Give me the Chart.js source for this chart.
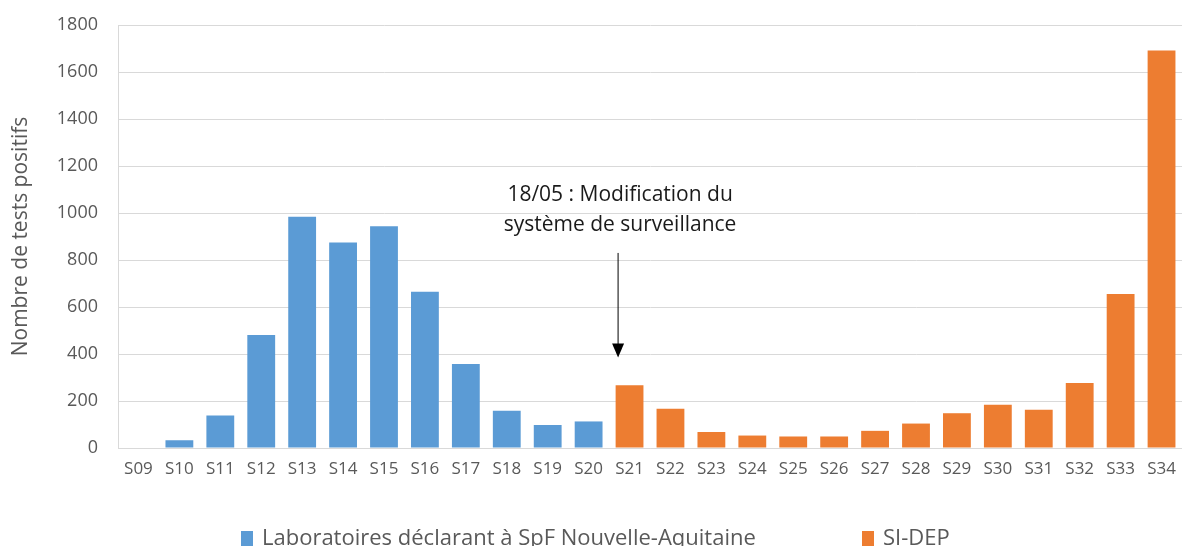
<!DOCTYPE html>
<html lang="fr">
<head>
<meta charset="utf-8">
<script src="https://cdn.jsdelivr.net/npm/chart.js@4.4.0/dist/chart.umd.min.js"></script>
<style>
  html, body { margin: 0; padding: 0; background: #fff; overflow: hidden; }
  #wrap { position: relative; width: 1182px; height: 546px; }
  #legend { position: absolute; left: 0; top: 522px; width: 1182px; height: 30px;
            font-family: "Open Sans", sans-serif; font-size: 22px; color: #595959; }
  .item { position: absolute; top: 0; line-height: 28px; white-space: nowrap; }
  .box { display: inline-block; width: 12px; height: 15px; margin-right: 9px; vertical-align: -1px; }
</style>
</head>
<body>
<div id="wrap">
  <canvas id="chart" width="1182" height="546"></canvas>
  <div id="legend"></div>
</div>
<script>
// Semaines
const weeks = ['S09', 'S10', 'S11', 'S12', 'S13', 'S14', 'S15', 'S16', 'S17', 'S18', 'S19', 'S20', 'S21',
    'S22', 'S23', 'S24', 'S25', 'S26', 'S27', 'S28', 'S29', 'S30', 'S31', 'S32', 'S33', 'S34'];

// Laboratoires déclarant à SpF (S09 - S20)
const labosValues = [0, 33, 138, 481, 984, 874, 944, 665, 357, 158, 98, 113,
    null, null, null, null, null, null, null, null, null, null, null, null, null, null];

// SI-DEP (S21 - S34)
const sidepValues = [null, null, null, null, null, null, null, null, null, null, null, null,
    267, 167, 68, 53, 49, 49, 73, 104, 148, 184, 163, 277, 655, 1692];

const yTicks = [0, 200, 400, 600, 800, 1000, 1200, 1400, 1600, 1800];

const seriesNames = ['Laboratoires déclarant à SpF Nouvelle-Aquitaine', 'SI-DEP'];
const annotationLines = ['18/05 : Modification du', 'système de surveillance'];

const blue = '#5B9BD5';
const orange = '#ED7D31';
const textGray = '#595959';
const gridGray = '#D9D9D9';
const font = '"Open Sans", sans-serif';

// Flèche et texte : changement du système de surveillance
const annotationPlugin = {
    id: 'annotation',
    afterDatasetsDraw(chart) {
        const ctx = chart.ctx;
        const x = chart.scales.x.getPixelForValue(11.72);
        const y = chart.scales.y;
        ctx.save();
        ctx.fillStyle = '#1a1a1a';
        ctx.font = '21px ' + font;
        ctx.textAlign = 'center';
        ctx.textBaseline = 'middle';
        ctx.fillText(annotationLines[0], x + 2, y.getPixelForValue(1076));
        ctx.fillText(annotationLines[1], x + 2, y.getPixelForValue(950));

        const top = y.getPixelForValue(830);
        const tip = y.getPixelForValue(385);
        ctx.strokeStyle = '#000';
        ctx.lineWidth = 1;
        ctx.beginPath();
        ctx.moveTo(x, top);
        ctx.lineTo(x, tip - 10);
        ctx.stroke();
        ctx.fillStyle = '#000';
        ctx.beginPath();
        ctx.moveTo(x - 6, tip - 14);
        ctx.lineTo(x + 6, tip - 14);
        ctx.lineTo(x, tip);
        ctx.closePath();
        ctx.fill();
        ctx.restore();
    }
};

new Chart(document.getElementById('chart'), {
    type: 'bar',
    data: {
        labels: weeks,
        datasets: [{
            label: seriesNames[0],
            data: labosValues,
            backgroundColor: blue,
            barPercentage: 0.68,
            categoryPercentage: 1
        }, {
            label: seriesNames[1],
            data: sidepValues,
            backgroundColor: orange,
            barPercentage: 0.68,
            categoryPercentage: 1
        }]
    },
    options: {
        responsive: false,
        animation: false,
        layout: { padding: { left: 8, top: 25, right: 0, bottom: 66 } },
        plugins: {
            legend: { display: false },
            tooltip: { enabled: false }
        },
        scales: {
            x: {
                stacked: true,
                grid: { display: false, drawTicks: false },
                border: { display: true, color: gridGray },
                ticks: { color: textGray, font: { family: font, size: 17 }, padding: 11, maxRotation: 0, autoSkip: false },
                afterFit(scale) { scale.height = 32; scale.paddingLeft = 0; scale.paddingRight = 0; }
            },
            y: {
                stacked: true,
                min: 0,
                max: 1800,
                afterBuildTicks(scale) { scale.ticks = yTicks.map(v => ({ value: v })); },
                grid: { color: gridGray, drawTicks: false },
                border: { display: true, color: gridGray },
                ticks: { color: textGray, font: { family: font, size: 18 }, padding: 20, callback: v => String(v) },
                title: { display: true, text: 'Nombre de tests positifs', color: textGray, font: { family: font, size: 21 }, padding: 0 },
                afterFit(scale) { scale.width = 110; scale.paddingTop = 0; scale.paddingBottom = 0; }
            }
        }
    },
    plugins: [annotationPlugin]
});

// Légende en bas
const legend = document.getElementById('legend');
[[seriesNames[0], blue, 241], [seriesNames[1], orange, 862]].forEach(([name, color, left]) => {
    const item = document.createElement('div');
    item.className = 'item';
    item.style.left = left + 'px';
    const box = document.createElement('span');
    box.className = 'box';
    box.style.background = color;
    item.appendChild(box);
    item.appendChild(document.createTextNode(name));
    legend.appendChild(item);
});
</script>
</body>
</html>
